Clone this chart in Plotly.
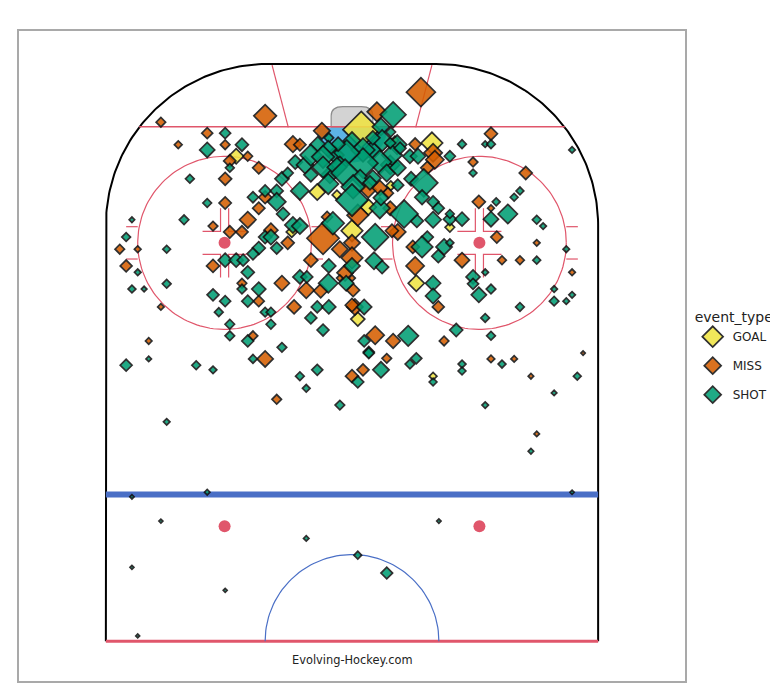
import numpy as np
import plotly.graph_objects as go

# Shot locations in rink feet (x across the ice, y up from the centre line), xg = shot danger value
goal_x = [1.6, 13.8, -20.0, -6.0, -10.4, -2.6, 0, 2.8, 6.7, 7.4, 16.9, 11.1, 1.0, 14.0]
goal_y = [88.6, 86.3, 84.0, 77.8, 70.9, 77.3, 71.1, 75.2, 78.9, 86.8, 71.7, 62.0, 55.8, 45.9]
goal_xg = [.45, .154, .076, .087, .04, .03, .154, .087, .03, .02, .03, .087, .065, .02]

miss_x = [-33.0, -15.0, -25.0, -21.9, -30.0, -18.0, -21.1, -16.1, -21.9, -21.9, -16.1, -18.0, -24.0, -21.1, -19.0,
          -40.1, -37.0, -15.0, -14.0, -11.1, -10.2, -9.0, -5.2, -5.0, -2.1, 0, 0, -4.3, 11.9, 4.3, 10.9, 14.0, 14.3,
          13.0, 2.8, 4.8, 6.2, 1.0, 6.6, 7.9, 6.9, 24.0, 20.9, 30.0, 21.9, 24.0, 25.0, 19.0, 25.9, 29.0, 31.9, 38.0,
          10.9, 10.5, 14.9, 4.0, 7.1, 15.9, -1.2, -2.1, 0, -7.9, -5.4, 0.2, -10.0, 0.5, 0, -39.0, -24.0, -19.0, -33.0,
          -16.1, -12.1, -17.1, -15.0, -35.1, -13.0, -7.1, 0, 1.9, 6.0, 24.0, 28.0, 30.9, 39.9, 31.9]
miss_y = [89.9, 91.0, 88.0, 86.0, 86.0, 84.0, 83.2, 82.0, 80.1, 75.9, 75.0, 73.0, 71.9, 70.9, 70.9,
          67.9, 67.9, 76.9, 71.2, 69.0, 86.1, 86.0, 88.4, 69.8, 67.9, 69.0, 66.4, 73.5, 95.1, 91.7, 86.1, 84.6, 83.4,
          82.0, 78.2, 78.5, 77.6, 73.8, 75.0, 70.9, 71.1, 87.9, 83.0, 81.1, 76.1, 75.0, 70.0, 66.0, 66.0, 66.0, 69.0, 63.9,
          65.0, 68.3, 57.9, 53.0, 52.0, 52.0, 63.8, 62.9, 62.9, 60.8, 60.7, 60.8, 57.9, 57.9, 58.2, 65.0, 65.0, 62.0, 57.9,
          58.9, 62.0, 52.9, 48.9, 52.0, 41.9, 66.0, 45.9, 47.0, 49.0, 48.9, 48.9, 45.9, 49.9, 35.9]
miss_xg = [.03, .17, .04, .03, .02, .03, .05, .05, .055, .05, .05, .09, .03, .05, .05,
           .03, .015, .055, .065, .055, .09, .05, .09, .347, .087, .087, .154, .04, .28, .125, .05, .11, .11,
           .056, .087, .076, .04, .154, .065, .087, .056, .056, .03, .056, .056, .015, .047, .076, .025, .025, .014, .014,
           .11, .056, .047, .11, .07, .03, .087, .014, .014, .087, .065, .056, .065, .087, .06, .047, .056, .03, .014,
           .04, .076, .03, .087, .014, .03, .065, .056, .047, .03, .019, .014, .01, .006, .01]

shot_x = [-21.9, -19.0, -25.0, -21.1, -28.0, -25.0, -29.0, -38.0, -39.0, -32.0, -17.1, -15.0, -13.0, -13.0, -11.9,
          -12.1, -11.1, -9.8, -9.0, -7.1, -10.2, -9.0, -15.0, -14.0, -16.1, -13.0, 0, 3.5, -2.9, 6.6, -8.1, -3.8,
          7.1, 5.0, 6.7, 5.2, 7.8, 6.9, 4.8,
          1.9, 1.9, -0.9, -2.4, -5.9, -4.0, -4.1, -7.1, -5.0, -5.0, -2.1, -2.6, -1.2, 1.4, 3.6, 6.0, 7.9, 10.0, 11.4,
          8.3, 10.2, 12.4, 12.1, 14.0, 14.9, 14.0, 11.2, 9.0, 4.8, 5.0, 7.9, 0.2, 0, -4.1, -3.3, 4.0, 3.6, 6.6, 3.1,
          16.9, 19.0, 23.0, 24.0, 20.9, 29.0, 28.0, 24.9, 38.0, 16.9, 16.9, 19.0, 24.0, 26.9, 31.9, 33.0, 37.0, 13.0,
          12.1, 15.9, 14.9, 16.9, 3.8, 5.2, 14.0, 14.0, 20.9, 20.9, 21.9, 24.0, 23.0, 31.9, 34.9, 34.9, 37.0, 38.0,
          29.0, 23.0, 18.0, 24.0, 9.7, 2.1, 2.1, 2.9, -21.9, -20.0, -18.8, -18.0, -17.1, -4.0, 0, -37.0, -38.0, -35.9,
          -32.0, -19.0, -16.1, -24.0, -21.9, -18.0, -23.0, -15.0, -14.0, -14.0, -21.1, -21.1, -18.0, -12.1, -17.1,
          -9.0, -7.8, -4.1, -1.0, -6.0, -4.0, -7.1, -5.0, -39.0, -35.1, -26.9, -24.0, -6.0, -9.0, -7.9, -2.1, -32.0,
          1.0, 5.0, 2.9, 10.0, 11.1, 19.0, 19.0, 14.0, 25.9, 38.9, 34.9, 23.0, 30.9,
          -38.0, -25.0, -33.0, 15.0, 38.0, -7.9, 1.0, 6.0, -38.0, -21.9, -37.0]
shot_y = [88.0, 86.0, 85.1, 82.0, 80.1, 75.9, 73.0, 73.0, 70.0, 67.9, 76.9, 78.0, 78.0, 76.1, 74.0,
          80.1, 81.1, 83.0, 78.0, 80.8, 72.1, 71.9, 70.0, 70.0, 68.1, 68.1, 86.7, 85.0, 84.2, 82.5, 82.5, 80.8,
          91.2, 89.1, 88.2, 86.7, 86.0, 84.2, 83.0,
          85.1, 82.8, 84.6, 86.1, 86.0, 87.2, 85.3, 84.2, 83.9, 82.1, 82.5, 82.1, 81.1, 80.2, 80.2, 81.1, 82.0, 84.0, 84.0,
          85.4, 80.1, 79.4, 76.9, 76.1, 75.0, 73.0, 72.8, 74.0, 75.0, 76.8, 79.0, 78.7, 76.4, 79.2, 72.4, 70.0, 87.2, 86.3, 79.4,
          84.0, 86.1, 86.1, 86.1, 81.1, 78.0, 76.9, 76.1, 85.1, 73.1, 74.0, 73.1, 73.1, 74.0, 73.0, 71.9, 67.9, 70.0,
          68.3, 68.3, 66.7, 69.0, 65.9, 64.8, 62.0, 59.8, 63.1, 61.9, 60.0, 61.0, 63.9, 66.0, 61.0, 58.9, 58.9, 60.0,
          57.9, 56.0, 53.9, 52.9, 52.9, 52.0, 57.9, 50.1, 66.0, 66.0, 66.0, 63.9, 67.1, 65.0, 65.0, 63.9, 61.0, 61.0,
          61.9, 61.0, 61.0, 60.0, 58.9, 58.9, 57.0, 57.0, 57.0, 54.9, 54.9, 52.9, 52.0, 50.9, 48.9,
          63.1, 63.1, 62.0, 62.0, 57.9, 57.9, 56.0, 53.9, 47.8, 48.9, 47.8, 47.0, 47.0, 45.9, 43.8, 40.9, 38.0,
          44.9, 47.0, 49.9, 48.0, 49.0, 48.0, 46.8, 44.9, 48.0, 45.9, 43.0, 40.9, 32.9,
          25.0, 25.8, 20.8, 20.8, 25.8, 17.8, 14.9, 11.8, 12.8, 8.8, 0.9]
shot_xg = [.04, .056, .076, .025, .025, .025, .03, .01, .025, .02, .04, .047, .056, .11, .056,
           .065, .04, .065, .11, .065, .087, .087, .056, .076, .056, .047, .1, .12, .1, .12, .1, .1,
           .222, .099, .03, .154, .125, .14, .187,
           .187, .30, .22, .065, .085, .03, .087, .154, .17, .154, .099, .125, .26, .099, .087, .099, .087, .065, .076,
           .047, .065, .26, .07, .047, .047, .087, .056, .26, .14, .076, .047, .187, .347, .14, .17, .24, .065, .04, .065,
           .04, .025, .014, .025, .02, .02, .02, .02, .014, .056, .025, .065, .076, .125, .025, .014, .014, .047,
           .154, .087, .056, .02, .099, .056, .076, .076, .065, .04, .076, .03, .014, .02, .014, .03, .014, .014,
           .025, .025, .056, .025, .14, .047, .076, .04, .065, .065, .047, .056, .047, .065, .087, .014, .02, .01,
           .025, .03, .065, .047, .04, .047, .025, .03, .03, .03, .03, .03, .047, .03, .025,
           .065, .047, .125, .076, .047, .065, .047, .047, .047, .01, .025, .019, .04, .025, .019, .03, .014,
           .047, .087, .04, .03, .04, .02, .02, .02, .02, .02, .01, .014, .01,
           .006, .01, .005, .006, .006, .01, .02, .045, .005, .005, .005]

event_names = ["GOAL", "MISS", "SHOT"]
event_colors = ["#F0E442", "#D55E00", "#009E73"]
legend_sizes = [16, 13, 13]

RED = "#E0566B"
BLUE = "#4A6FC6"
SIZE_K = 42.0


def arc(cx, cy, r, a0, a1, n=80):
    t = np.radians(np.linspace(a0, a1, n))
    return cx + r * np.cos(t), cy + r * np.sin(t)


fig = go.Figure()


def rink_line(x, y, color, width, fill=None, fillcolor=None):
    fig.add_trace(go.Scatter(x=list(x), y=list(y), mode="lines", line=dict(color=color, width=width),
                             fill=fill, fillcolor=fillcolor, hoverinfo="skip", showlegend=False))


# crease and net
cx, cy = arc(0, 89, 6, 180, 360)
rink_line(cx, cy, "#5DB3E6", 1, fill="toself", fillcolor="#5DB3E6")
fig.add_shape(type="path", path="M -3.6 89 L -3.6 91 Q -3.6 92.6 -1.6 92.6 L 1.6 92.6 Q 3.6 92.6 3.6 91 L 3.6 89 Z",
              line=dict(color="#8C8C8C", width=1.2), fillcolor="#D3D3D3", layer="below")

# boards
lx, ly = arc(-14.5, 72, 28, 180, 90)
rx, ry = arc(14.5, 72, 28, 90, 0)
rink_line([-42.5, *lx, *rx, 42.5], [0, *ly, *ry, 0], "#000000", 2)

# goal line and trapezoid
gx = 42.5 - 28 + np.sqrt(28 ** 2 - (89 - 72) ** 2)
rink_line([-float(gx), float(gx)], [89.1, 89.1], RED, 1.5)
rink_line([-13.8, -11], [99.8, 89], RED, 1.2)
rink_line([13.8, 11], [99.8, 89], RED, 1.2)

# centre red line, blue line, centre circle
rink_line([-42.5, 42.5], [0, 0], RED, 3)
rink_line([-42.5, 42.5], [25.4, 25.4], BLUE, 6)
ax, ay = arc(0, 0, 15, 0, 180)
rink_line(ax, ay, BLUE, 1.2)

# faceoff circles, dots, hash marks
for sx in (-22, 22):
    fx, fy = arc(sx, 69, 15, 0, 360, 160)
    rink_line(fx, fy, RED, 1.2)
    for side in (-1, 1):
        rink_line([sx + side * 15, sx + side * 17], [71.8, 71.8], RED, 1.2)
        rink_line([sx + side * 15, sx + side * 17], [66.2, 66.2], RED, 1.2)
        for vy in (-1, 1):
            rink_line([sx + side * 3.8, sx + side * 0.7, sx + side * 0.7],
                      [69 + vy * 2, 69 + vy * 2, 69 + vy * 6], RED, 1.2)
dots_x = [-22, 22, -22, 22]
dots_y = [69, 69, 19.9, 19.9]
fig.add_trace(go.Scatter(x=dots_x, y=dots_y, mode="markers", marker=dict(color=RED, size=12),
                         hoverinfo="skip", showlegend=False))

# events, one trace per type; the legend keys are sized independently of the data
for name, color, key, xs, ys, xg in zip(event_names, event_colors, legend_sizes,
                                        [goal_x, miss_x, shot_x], [goal_y, miss_y, shot_y],
                                        [goal_xg, miss_xg, shot_xg]):
    sizes = np.sqrt(np.array(xg)) * SIZE_K
    style = dict(symbol="diamond", color=color, opacity=0.87, line=dict(color="#111111", width=1.7))
    fig.add_trace(go.Scatter(x=xs, y=ys, mode="markers", name=name, legendgroup=name, showlegend=False,
                             marker=dict(size=sizes, **style)))
    fig.add_trace(go.Scatter(x=[None], y=[None], mode="markers", name=name, legendgroup=name,
                             marker=dict(size=key, **style)))

fig.add_annotation(x=0, y=-3.2, text="Evolving-Hockey.com", showarrow=False,
                   font=dict(family="DejaVu Sans", size=11.4, color="#222222"))

axis = dict(showgrid=False, zeroline=False, showticklabels=False, ticks="", showline=True,
            linecolor="#A9A9A9", linewidth=2, mirror=True)
fig.update_layout(
    width=770, height=700,
    margin=dict(l=19, r=85, t=31, b=19, autoexpand=False),
    paper_bgcolor="white", plot_bgcolor="white",
    font=dict(family="DejaVu Sans", size=12, color="#222222"),
    xaxis=dict(range=[-57.5, 57.5], **axis),
    yaxis=dict(range=[-6.9, 105.7], **axis),
    legend=dict(x=1.0116, y=0.580, xanchor="left", yanchor="top", tracegroupgap=10,
                title=dict(text="event_type", font=dict(size=14)),
                font=dict(size=12), itemwidth=30),
)
fig.write_html("out.html", config={"displayModeBar": False},
               post_script="document.body.style.margin='0';document.documentElement.style.overflow='hidden';")
